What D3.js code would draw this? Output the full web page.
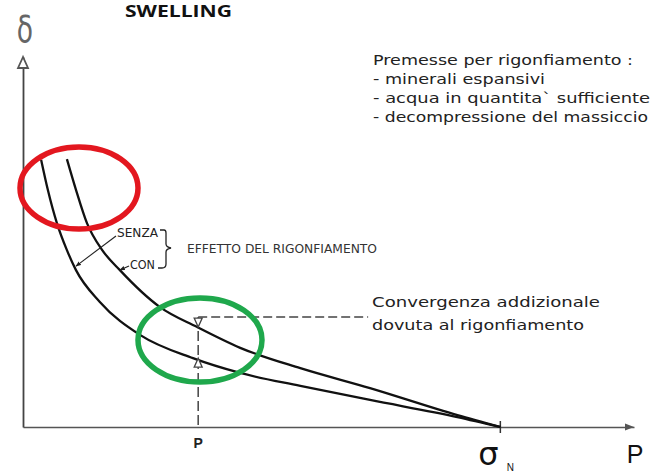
<!DOCTYPE html>
<html><head><meta charset="utf-8">
<script src="https://cdn.jsdelivr.net/npm/d3@7"></script>
<style>body{margin:0;background:#fff}svg{display:block}</style>
</head><body><svg id="c" width="651" height="473"></svg>
<script>
// ---- data (P in % of sigmaN, delta in arbitrary units) ----
const sigmaN = 100;
const pLoad = 36.7;
const senzaP     = [3.8, 5.2, 7.1, 9.2, 11.1, 16.1, 24.5, 35.6, 45.5, 58.1, 72.7, 91.0, 100];
const senzaDelta = [72.2, 64.1, 55.1, 47.8, 42.4, 33.8, 24.9, 18.6, 14.6, 11.1, 7.3, 2.7, 0];
const conP       = [9.2, 11.1, 13.4, 16.6, 20.3, 28.7, 36.5, 45.5, 58.1, 72.7, 91.0, 100];
const conDelta   = [72.4, 64.1, 55.1, 47.8, 42.4, 32.4, 27.0, 21.4, 15.9, 10.5, 3.2, 0];
const conAtP = 27.0, senzaAtP = 18.6, dashTop = 29.7, dashEndP = 72.3;
const premesse = ["Premesse per rigonfiamento :", "- minerali espansivi",
  "- acqua in quantita` sufficiente", "- decompressione del massiccio"];
const convergenza = ["Convergenza addizionale", "dovuta al rigonfiamento"];
const curveLabels = ["SENZA", "CON"];
const effetto = "EFFETTO DEL RIGONFIAMENTO";
const title = "SWELLING";

const svg = d3.select("#c");
svg.append("rect").attr("width", 651).attr("height", 473).attr("fill", "#fff");

const x = d3.scaleLinear().domain([0, 128]).range([23, 634]);
const y = d3.scaleLinear().domain([0, 100]).range([427, 57]);

const defs = svg.append("defs");
defs.append("marker").attr("id", "ah").attr("viewBox", "0 0 10 10")
  .attr("refX", 9).attr("refY", 5).attr("markerWidth", 5).attr("markerHeight", 5)
  .attr("orient", "auto").append("path").attr("d", "M0,1 L10,5 L0,9 Z").attr("fill", "#222");

// axes
const xAxis = svg.append("g").attr("transform", `translate(0,${y(0)})`)
  .call(d3.axisBottom(x).tickValues([]).tickSizeOuter(0));
xAxis.select(".domain").attr("stroke", "#555").attr("stroke-width", 1.6);
const yAxis = svg.append("g").attr("transform", `translate(${x(0)},0)`)
  .call(d3.axisLeft(y).tickValues([]).tickSizeOuter(0));
yAxis.select(".domain").attr("stroke", "#444").attr("stroke-width", 1.8);

// arrowheads
const xe = x.range()[1], ye = y(0);
svg.append("path").attr("d", `M${xe},${ye} L${xe - 9},${ye - 3.5} L${xe - 9},${ye + 3.5} Z`).attr("fill", "#555");
const yx = x(0), yt = y.range()[1];
svg.append("path").attr("d", `M${yx},${yt} L${yx - 5},${yt + 11} L${yx + 5},${yt + 11} Z`)
  .attr("fill", "#fff").attr("stroke", "#555").attr("stroke-width", 1.8);

// sigmaN tick
svg.append("line").attr("x1", x(sigmaN)).attr("x2", x(sigmaN)).attr("y1", y(0) - 6).attr("y2", y(0) + 6)
  .attr("stroke", "#333").attr("stroke-width", 1.5);

// curves
const line = d3.line().x(d => x(d[0])).y(d => y(d[1])).curve(d3.curveMonotoneX);
svg.append("path").datum(d3.zip(senzaP, senzaDelta)).attr("d", line)
  .attr("fill", "none").attr("stroke", "#111").attr("stroke-width", 2.3);
svg.append("path").datum(d3.zip(conP, conDelta)).attr("d", line)
  .attr("fill", "none").attr("stroke", "#111").attr("stroke-width", 2.3);

// dashed construction lines
svg.append("line").attr("x1", x(pLoad)).attr("x2", x(pLoad)).attr("y1", y(dashTop)).attr("y2", y(0))
  .attr("stroke", "#444").attr("stroke-width", 1.5).attr("stroke-dasharray", "10,4");
svg.append("line").attr("x1", x(pLoad)).attr("x2", x(dashEndP)).attr("y1", y(dashTop)).attr("y2", y(dashTop))
  .attr("stroke", "#444").attr("stroke-width", 1.5).attr("stroke-dasharray", "9,4");
const px = x(pLoad);
const tTop = y(conAtP), tBot = y(senzaAtP);
svg.append("path").attr("d", `M${px},${tTop} L${px - 4},${tTop - 9} L${px + 4},${tTop - 9} Z`)
  .attr("fill", "#fff").attr("stroke", "#444").attr("stroke-width", 1.3);
svg.append("path").attr("d", `M${px},${tBot} L${px - 4},${tBot + 9} L${px + 4},${tBot + 9} Z`)
  .attr("fill", "#fff").attr("stroke", "#444").attr("stroke-width", 1.3);

// highlight ellipses
svg.append("ellipse").attr("cx", 79).attr("cy", 188).attr("rx", 59).attr("ry", 41)
  .attr("fill", "none").attr("stroke", "#e3171f").attr("stroke-width", 5.5);
svg.append("ellipse").attr("cx", 200).attr("cy", 340).attr("rx", 62).attr("ry", 42)
  .attr("fill", "none").attr("stroke", "#1fa84c").attr("stroke-width", 5.5);

// curve labels & leaders
const tf = "'DejaVu Sans Condensed','DejaVu Sans',sans-serif";
svg.append("line").attr("x1", 116).attr("y1", 236).attr("x2", x(senzaP[4])).attr("y2", y(senzaDelta[4]) - 4)
  .attr("stroke", "#222").attr("stroke-width", 1.1).attr("marker-end", "url(#ah)");
svg.append("line").attr("x1", 129).attr("y1", 266).attr("x2", x(conP[4])).attr("y2", y(conDelta[4]))
  .attr("stroke", "#222").attr("stroke-width", 1.1).attr("marker-end", "url(#ah)");
svg.append("text").attr("x", 117).attr("y", 237).text(curveLabels[0])
  .attr("font-family", tf).attr("font-size", 12).attr("fill", "#222")
  .attr("textLength", 41).attr("lengthAdjust", "spacingAndGlyphs");
svg.append("text").attr("x", 130).attr("y", 269).text(curveLabels[1])
  .attr("font-family", tf).attr("font-size", 12).attr("fill", "#222")
  .attr("textLength", 25).attr("lengthAdjust", "spacingAndGlyphs");
svg.append("path").attr("d", "M160,230 H164 Q166,230 166,233 V244 Q166,247 171,248 Q166,249 166,252 V264 Q166,268 162,268 H158")
  .attr("fill", "none").attr("stroke", "#222").attr("stroke-width", 1.3);
svg.append("text").attr("x", 187).attr("y", 253).text(effetto)
  .attr("font-family", tf).attr("font-size", 12.5).attr("fill", "#333")
  .attr("textLength", 190).attr("lengthAdjust", "spacingAndGlyphs");

// right text blocks
const pf = "'DejaVu Sans',sans-serif";
const premLen = [260, 172, 277, 275];
svg.append("g").selectAll("text").data(premesse).join("text")
  .attr("x", 373).attr("y", (d, i) => 65 + i * 19).text(d => d)
  .attr("font-family", pf).attr("font-size", 13.5).attr("fill", "#222")
  .attr("textLength", (d, i) => premLen[i]).attr("lengthAdjust", "spacingAndGlyphs");
const convLen = [228, 212];
svg.append("g").selectAll("text").data(convergenza).join("text")
  .attr("x", 372).attr("y", (d, i) => 307 + i * 23).text(d => d)
  .attr("font-family", pf).attr("font-size", 13.5).attr("fill", "#222")
  .attr("textLength", (d, i) => convLen[i]).attr("lengthAdjust", "spacingAndGlyphs");

// title
svg.append("text").attr("x", 125).attr("y", 17).text(title)
  .attr("font-family", "'Open Sans',sans-serif").attr("font-weight", "bold").attr("font-size", 16.5)
  .attr("fill", "#111").attr("textLength", 107).attr("lengthAdjust", "spacingAndGlyphs");

// axis labels
svg.append("text").attr("x", 25).attr("y", 42).attr("text-anchor", "middle").text("δ")
  .attr("font-family", "'DejaVu Sans',sans-serif").attr("font-size", 38).attr("fill", "#666")
  .attr("transform", "translate(25,0) scale(0.7,1) translate(-25,0)");
svg.append("text").attr("x", px).attr("y", 448).attr("text-anchor", "middle").text("P")
  .attr("font-family", "'Liberation Sans',sans-serif").attr("font-weight", "bold").attr("font-size", 14).attr("fill", "#222");
svg.append("text").attr("x", 635).attr("y", 463).attr("text-anchor", "middle").text("P")
  .attr("font-family", "'Liberation Sans',sans-serif").attr("font-size", 25).attr("fill", "#111");
svg.append("text").attr("x", x(sigmaN) - 12).attr("y", 465).attr("text-anchor", "middle").text("σ")
  .attr("font-family", "'DejaVu Sans',sans-serif").attr("font-size", 32).attr("fill", "#111");
svg.append("text").attr("x", x(sigmaN) + 10).attr("y", 471).attr("text-anchor", "middle").text("N")
  .attr("font-family", "'Liberation Sans',sans-serif").attr("font-size", 10).attr("fill", "#111");
</script></body></html>
